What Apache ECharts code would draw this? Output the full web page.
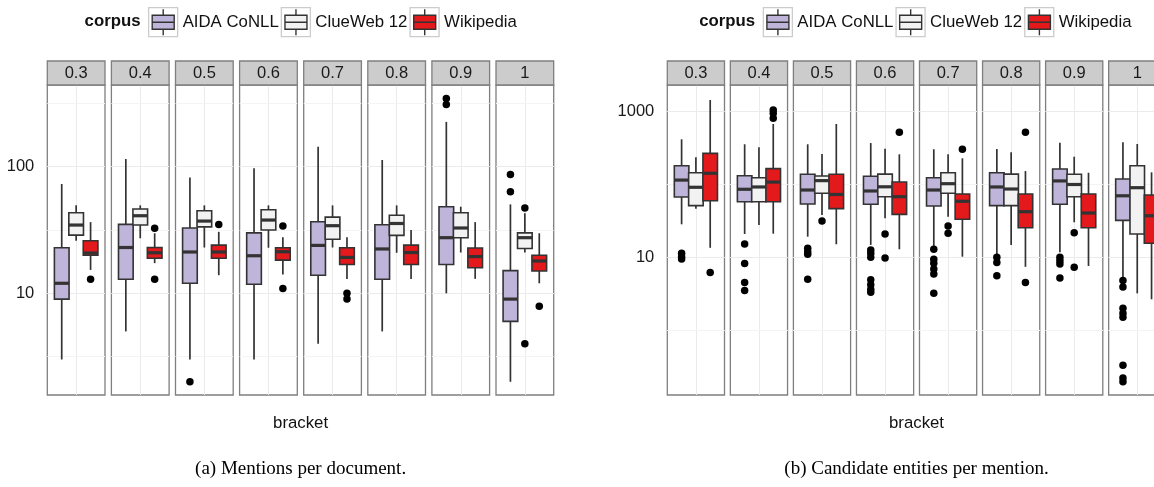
<!DOCTYPE html>
<html><head><meta charset="utf-8">
<script src="https://cdn.jsdelivr.net/npm/echarts@6/dist/echarts.min.js"></script>
<style>html,body{margin:0;padding:0;background:#fff}#c{width:1154px;height:487px}</style>
</head><body><div id="c"></div>
<script>
// ---------- data ----------
const brackets = ['0.3','0.4','0.5','0.6','0.7','0.8','0.9','1'];
const corpora = ['AIDA CoNLL','ClueWeb 12','Wikipedia'];

// each entry: [lower whisker, Q1, median, Q3, upper whisker]
const mentionsAIDA = [[3.0,9.0,12,22.9,73],[5.0,12.9,23,35,115],[3.0,12,21.2,32.8,82],[3.0,11.8,19.8,30,97],[4.0,13.9,23.9,36.7,144],[5.0,12.9,22.4,34.8,113],[10,16.9,27.5,48.3,226],[2.0,6.0,9.0,15.1,50.4]];
const mentionsClueWeb = [[26,28.8,34.6,43.3,49.5],[27.2,34.6,41,46.3,49.5],[23,33.5,37.2,44.9,49.5],[22.9,31.6,37.9,45.7,49.5],[23,26.7,34.2,40,49.5],[20.9,28.7,35.6,41.3,49.5],[21,27.5,32.8,43.3,48.3],[21,22.6,27.5,30,42.8]];
const mentionsWikipedia = [[15.3,20.0,20.8,26,36.5],[17.3,18.9,20.9,23,29.8],[13.9,18.9,21.2,24,30.6],[14.1,18.3,21.3,22.9,27.7],[13.0,16.9,19.2,22.9,27.7],[13.0,16.9,21.0,24,31.6],[13,15.9,19.5,22.8,36.5],[12,15,18,20,29.8]];
const mentionsAIDAOut = [[],[],[2.0],[],[],[],[346,310],[86.9,63.4]];
const mentionsClueWebOut = [[],[],[],[],[],[],[],[47.1,4.0]];
const mentionsWikipediaOut = [[12.9],[32.6,12.9],[35],[34,10.9],[10,9.0],[],[],[7.9]];

const candidatesAIDA = [[28.4,67.3,115,181,418],[20.9,58,86,132,357],[19.2,54,84,138,357],[14.8,53.5,81.5,130,371],[14,50.7,84,124,305],[10.4,51.2,92.5,145,307],[11.7,53.5,112,163,375],[5.0,32.2,70,119,380]];
const candidatesClueWeb = [[46.6,51.2,91.6,145,237],[27.8,58,92.5,124,324],[38,75.7,113,131,262],[34.3,68,93,139,310],[36.1,75.7,102.6,145,260],[14.8,51.2,86.7,139,277],[30.3,68,100,138,241],[3.2,20.9,90.4,181,360]];
const candidatesWikipedia = [[13.5,59.9,142.6,268,1449],[21.1,58,108,165,678],[15.1,46.6,73,138,678],[12.9,38.9,68,108,260],[10.2,33.3,58.8,74,229],[7.4,25.5,42.3,74,153],[7.6,25.5,40.6,74,145],[2.65,15.6,37.2,71.8,147]];
const candidatesAIDAOut = [[11.4,10.2,9.5],[15.2,8.2,4.5,3.5],[13.3,11.9,11,5.0],[12.6,11.4,10,4.9,4.2,3.6,3.3],[12.9,9.4,8.3,6.9,5.9,3.2],[10,8.5,5.6],[10,9.0,8.1,5.2],[4.8,3.9,2.0,1.7,1.5,0.33,0.22,0.195]];
const candidatesClueWebOut = [[],[],[31.6],[20.9,9.8],[26.9,21.4],[],[21.8,7.3],[]];
const candidatesWikipediaOut = [[6.2],[1054,950,811],[],[521],[305],[521,4.5],[],[]];

// tick labels / gridline breaks
const mentionTickLabels = ['10','100'];
const mentionMajorBreaks = [10, 100];
const mentionMinorBreaks = [3.162, 31.62, 316.2];
const candidateTickLabels = ['10','1000'];
const candidateMajorBreaks = [10, 1000];
const candidateMinorBreaks = [1, 100];

// ---------- styles / layout ----------
const FONT = '"Liberation Sans", Arial, Helvetica, sans-serif';
const SERIF = '"Liberation Serif", "Times New Roman", serif';
const fills = ['#BFB5DA', '#F2F2F2', '#E3191C'];
const edge = '#333333';
const dodge = [0.3, 0.6, 0.9];
const boxWidth = 0.305;
const PANEL_TOP = 85, PANEL_H = 310, STRIP_TOP = 61, STRIP_H = 24;

const panels = [
  { stats: [mentionsAIDA, mentionsClueWeb, mentionsWikipedia],
    outs: [mentionsAIDAOut, mentionsClueWebOut, mentionsWikipediaOut],
    yMin: 1.573, yMax: 441.9, labels: mentionTickLabels,
    major: mentionMajorBreaks, minor: mentionMinorBreaks,
    left0: 47.3, step: 64.1, width: 57.7, center: 300.6, legendLeft: 148,
    caption: '(a) Mentions per document.' },
  { stats: [candidatesAIDA, candidatesClueWeb, candidatesWikipedia],
    outs: [candidatesAIDAOut, candidatesClueWebOut, candidatesWikipediaOut],
    yMin: 0.1284, yMax: 2327, labels: candidateTickLabels,
    major: candidateMajorBreaks, minor: candidateMinorBreaks,
    left0: 667.3, step: 63.05, width: 57.2, center: 916.5, legendLeft: 762.7,
    caption: '(b) Candidate entities per mention.' }
];

function decadeLabel(v) {
  const l = Math.log10(v);
  return Math.abs(l - Math.round(l)) < 1e-6 ? String(Math.round(v)) : '';
}

function renderBox(params, api) {
  const x = api.value(0);
  const lo = api.coord([x, api.value(1)]);
  const q1 = api.coord([x, api.value(2)]);
  const md = api.coord([x, api.value(3)]);
  const q3 = api.coord([x, api.value(4)]);
  const hi = api.coord([x, api.value(5)]);
  const w = api.size([boxWidth, 0], [x, 10])[0];
  const cx = lo[0], hw = w / 2;
  const fill = api.visual('color');
  return { type: 'group', children: [
    { type: 'line', shape: { x1: cx, y1: q3[1], x2: cx, y2: hi[1] }, style: { stroke: edge, lineWidth: 1.7 } },
    { type: 'line', shape: { x1: cx, y1: q1[1], x2: cx, y2: lo[1] }, style: { stroke: edge, lineWidth: 1.7 } },
    { type: 'rect', shape: { x: cx - hw, y: q3[1], width: w, height: q1[1] - q3[1] }, style: { fill: fill, stroke: edge, lineWidth: 1.6 } },
    { type: 'line', shape: { x1: cx - hw, y1: md[1], x2: cx + hw, y2: md[1] }, style: { stroke: edge, lineWidth: 3.2 } }
  ]};
}

const grids = [], xAxes = [], yAxes = [], series = [], graphics = [], legends = [];
const BOX_ICON = 'path://M0,6H22V20H0Z M0,13H22 M11,0V6 M11,20V26';
const LEGEND_FS = 16.8;

panels.forEach((p, pi) => {
  brackets.forEach((b, i) => {
    const g = grids.length;
    const left = p.left0 + i * p.step;
    grids.push({ left: left, top: PANEL_TOP, width: p.width, height: PANEL_H, show: true,
      backgroundColor: '#FFFFFF', borderColor: '#7F7F7F', borderWidth: 1.3,
      containLabel: false, outerBoundsMode: 'none' });
    xAxes.push({ gridIndex: g, type: 'value', min: 0, max: 1.2, interval: 0.6,
      axisLine: { show: false }, axisTick: { show: false }, axisLabel: { show: false },
      splitLine: { show: true, showMinLine: false, showMaxLine: false, lineStyle: { color: '#EBEBEB', width: 1 } } });
    yAxes.push({ gridIndex: g, type: 'log', logBase: 10, min: p.yMin, max: p.yMax,
      axisLine: { show: false }, axisTick: { show: false },
      axisLabel: { show: i === 0, margin: 13, fontSize: 16.5, color: '#1a1a1a', fontFamily: FONT,
        formatter: v => { const s = decadeLabel(v); return p.labels.indexOf(s) >= 0 ? s : ''; } },
      splitLine: { show: true, showMinLine: false, showMaxLine: false, lineStyle: { color: '#F4F4F4', width: 1 } } });
    corpora.forEach((name, c) => {
      const s = p.stats[c][i];
      const ser = { type: 'custom', name: name, xAxisIndex: g, yAxisIndex: g,
        itemStyle: { color: fills[c] }, renderItem: renderBox,
        encode: { x: 0, y: [1, 2, 3, 4, 5] },
        data: [[dodge[c], s[0], s[1], s[2], s[3], s[4]]], z: 2 };
      if (c === 0) {
        ser.markLine = { silent: true, symbol: 'none', z: 1, animation: false,
          label: { show: false },
          data: p.major.map(v => ({ yAxis: v, lineStyle: { color: '#EBEBEB', width: 1, type: 'solid' } }))
            .concat(p.minor.map(v => ({ yAxis: v, lineStyle: { color: '#F4F4F4', width: 1, type: 'solid' } }))) };
      }
      series.push(ser);
    });
    corpora.forEach((name, c) => {
      const o = p.outs[c][i];
      if (o.length) {
        series.push({ type: 'scatter', name: 'outlier', xAxisIndex: g, yAxisIndex: g,
          symbol: 'circle', symbolSize: 7.5, itemStyle: { color: '#000000', opacity: 1 }, z: 3,
          data: o.map(v => [dodge[c], v]) });
      }
    });
    // facet strip
    graphics.push({ type: 'rect', shape: { x: left, y: STRIP_TOP, width: p.width, height: STRIP_H },
      style: { fill: '#CCCCCC', stroke: '#7F7F7F', lineWidth: 1.3 }, z: 10, silent: true });
    graphics.push({ type: 'text', x: left + p.width / 2, y: STRIP_TOP + STRIP_H / 2 + 0.5, z: 11, silent: true,
      style: { text: b, font: '16.5px ' + FONT, fill: '#1a1a1a', textAlign: 'center', verticalAlign: 'middle', textVerticalAlign: 'middle' } });
  });
  // axis title and caption
  graphics.push({ type: 'text', x: p.center, y: 423, z: 11, silent: true,
    style: { text: 'bracket', font: '16.8px ' + FONT, fill: '#111', textAlign: 'center', verticalAlign: 'middle', textVerticalAlign: 'middle' } });
  graphics.push({ type: 'text', x: p.center, y: 469, z: 11, silent: true,
    style: { text: p.caption, font: '19px ' + SERIF, fill: '#000', textAlign: 'center', verticalAlign: 'middle', textVerticalAlign: 'middle' } });
  // legend title
  graphics.push({ type: 'text', x: p.legendLeft - 7.5, y: 21.5, z: 11, silent: true,
    style: { text: 'corpus', font: 'bold ' + LEGEND_FS + 'px ' + FONT, fill: '#111', textAlign: 'right', verticalAlign: 'middle', textVerticalAlign: 'middle' } });
  // legend: key frames + text
  legends.push({ left: p.legendLeft, top: 7, padding: 0, orient: 'horizontal', data: corpora,
    icon: 'rect', itemWidth: 29, itemHeight: 29, itemGap: 2, selectedMode: false,
    itemStyle: { color: '#FFFFFF', borderColor: '#CCCCCC', borderWidth: 1.3 },
    textStyle: { fontSize: LEGEND_FS, color: '#111', fontFamily: FONT } });
  // legend: mini boxplot keys
  legends.push({ left: p.legendLeft + 3.5, top: 8.5, padding: 0, orient: 'horizontal', data: corpora,
    icon: BOX_ICON, itemWidth: 22, itemHeight: 26, itemGap: 9, selectedMode: false,
    itemStyle: { borderColor: edge, borderWidth: 1.4 },
    textStyle: { fontSize: LEGEND_FS, color: 'rgba(0,0,0,0)', fontFamily: FONT } });
});

const chart = echarts.init(document.getElementById('c'), null, { renderer: 'canvas' });
chart.setOption({
  animation: false,
  backgroundColor: '#FFFFFF',
  textStyle: { fontFamily: FONT },
  grid: grids, xAxis: xAxes, yAxis: yAxes,
  legend: legends,
  series: series,
  graphic: { elements: graphics }
});
</script></body></html>
